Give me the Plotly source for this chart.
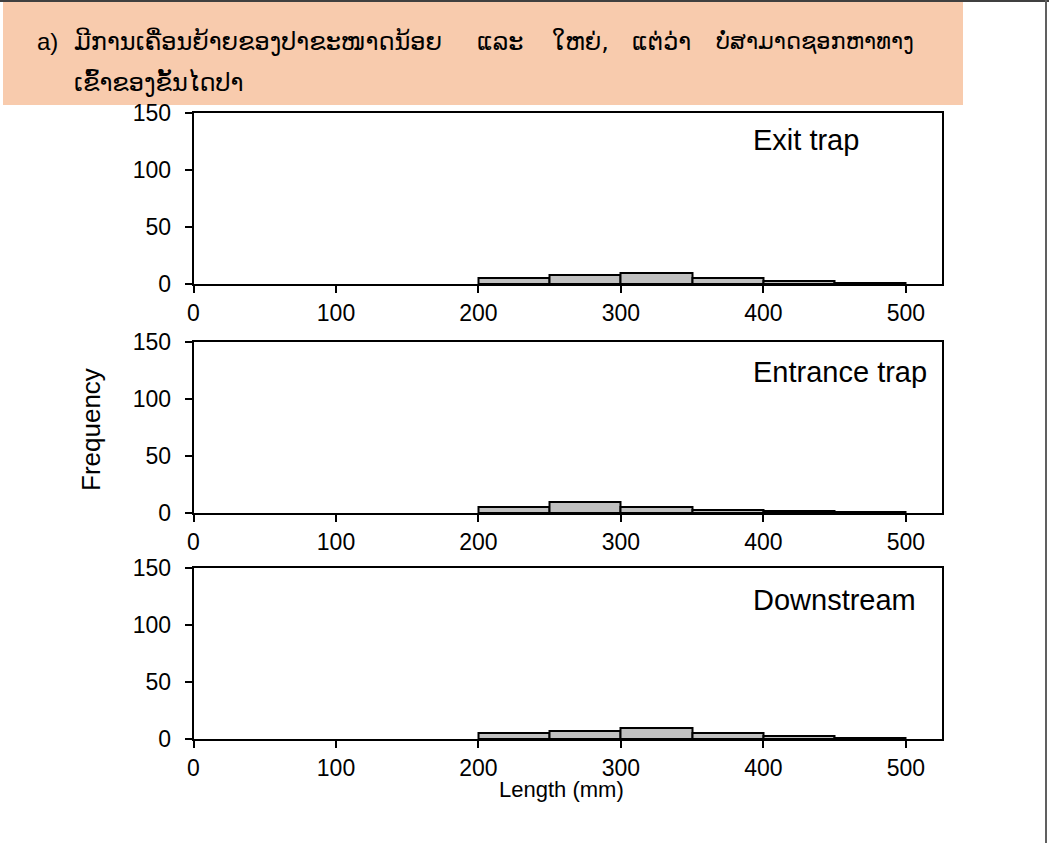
import plotly.graph_objects as go

W, H = 1049, 843

# ---- data ----
bin_starts = [200, 250, 300, 350, 400, 450]
bin_width = 50
exit_trap = [5, 8, 10, 5, 3, 1]
entrance_trap = [5, 10, 5, 3, 2, 1]
downstream = [5, 7, 10, 5, 3, 1]
panel_names = ["Exit trap", "Entrance trap", "Downstream"]
x_ticks = [0, 100, 200, 300, 400, 500]
y_ticks = [0, 50, 100, 150]
title_line1_parts = ["a)", "ມີການເຄື່ອນຍ້າຍຂອງປາຂະໜາດນ້ອຍ", "ແລະ", "ໃຫຍ່,", "ແຕ່ວ່າ", "ບໍ່ສາມາດຊອກຫາທາງ"]
title_line2 = "ເຂົ້າຂອງຂັ້ນໄດປາ"
x_title = "Length (mm)"
y_title = "Frequency"

series = [exit_trap, entrance_trap, downstream]

def px(x):
    return x / W

def py(y):
    return 1 - y / H

# layout (pixel positions)
panels_px = [(113, 284), (342, 513), (568, 739)]
label_y = [140, 372, 600]
x_left, x_right = 193.5, 941.5
# (x position, anchor, font size) for each title segment
title_part_pos = [(35, "left", 24), (72, "left", 24), (500, "center", 24),
                  (580, "center", 24), (661, "center", 24), (916, "right", 22.5)]

FONT = "Liberation Sans, Arial, DejaVu Sans, sans-serif"
LAO_FONT = "DejaVu Sans, Liberation Sans, sans-serif"

fig = go.Figure()
centers = [s + bin_width / 2 for s in bin_starts]

for i, vals in enumerate(series):
    n = "" if i == 0 else str(i + 1)
    fig.add_trace(go.Bar(
        x=centers, y=vals, width=bin_width,
        marker=dict(color="#C0C0C0", line=dict(color="black", width=2)),
        xaxis="x" + n, yaxis="y" + n, showlegend=False,
    ))
    top, bot = panels_px[i]
    axis_common = dict(showline=True, linecolor="black", linewidth=1.5, mirror=True,
                       ticks="outside", ticklen=7, tickwidth=1.5, tickcolor="black",
                       showgrid=False, zeroline=False, automargin=False,
                       tickfont=dict(family=FONT, size=23, color="black"))
    fig.layout["xaxis" + n] = dict(
        domain=[px(x_left), px(x_right)], range=[0, 525],
        tickvals=x_ticks, anchor="y" + n, ticklabelstandoff=1, **axis_common)
    fig.layout["yaxis" + n] = dict(
        domain=[py(bot), py(top)], range=[0, 150],
        tickvals=y_ticks, anchor="x" + n, ticklabelstandoff=9, **axis_common)
    fig.add_annotation(
        x=px(751), y=py(label_y[i]), xref="paper", yref="paper",
        text=panel_names[i], showarrow=False, xanchor="left", yanchor="middle",
        font=dict(family=FONT, size=29, color="black"))

# shaded title box
fig.add_shape(type="rect", xref="paper", yref="paper",
              x0=px(3), x1=px(963), y0=py(105), y1=py(2),
              fillcolor="#F8CBAD", line=dict(width=0), layer="below")
# page frame lines
fig.add_shape(type="line", xref="paper", yref="paper",
              x0=0, x1=1, y0=py(1), y1=py(1), line=dict(color="#404040", width=2))
fig.add_shape(type="line", xref="paper", yref="paper",
              x0=px(1046), x1=px(1046), y0=0, y1=1, line=dict(color="#606060", width=2))

for txt, (xp, anc, fs) in zip(title_line1_parts, title_part_pos):
    fig.add_annotation(x=px(xp), y=py(42), xref="paper", yref="paper", text=txt,
                       showarrow=False, xanchor=anc, yanchor="middle",
                       font=dict(family=LAO_FONT if xp > 40 else FONT, size=fs, color="black"))
fig.add_annotation(x=px(72), y=py(82), xref="paper", yref="paper", text=title_line2,
                   showarrow=False, xanchor="left", yanchor="middle",
                   font=dict(family=LAO_FONT, size=24, color="black"))

# axis titles
fig.add_annotation(x=px(91), y=py(430), xref="paper", yref="paper", text=y_title,
                   showarrow=False, textangle=-90, xanchor="center", yanchor="middle",
                   font=dict(family=FONT, size=26, color="black"))
fig.add_annotation(x=px(561), y=py(789), xref="paper", yref="paper", text=x_title,
                   showarrow=False, xanchor="center", yanchor="middle",
                   font=dict(family=FONT, size=22, color="black"))

fig.update_layout(template="none", width=W, height=H,
                  margin=dict(l=0, r=0, t=0, b=0, pad=0),
                  paper_bgcolor="white", plot_bgcolor="white", bargap=0)
fig.write_html("out.html")
